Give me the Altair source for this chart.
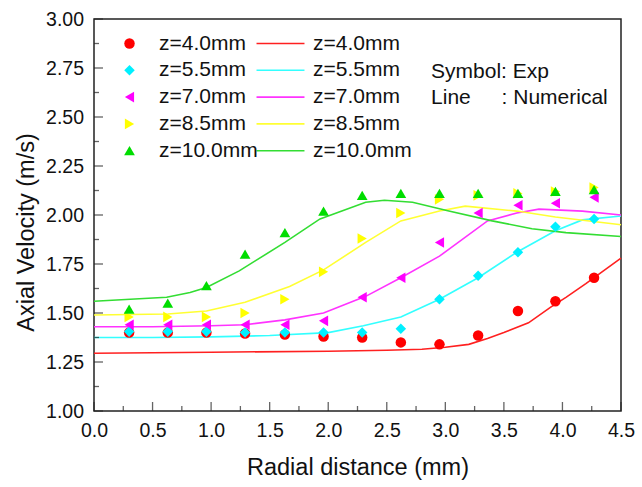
import altair as alt
import pandas as pd

FONT = "Liberation Sans"

series = ["z=4.0mm", "z=5.5mm", "z=7.0mm", "z=8.5mm", "z=10.0mm"]
point_colors = ["#FF0000", "#00F0FF", "#FF00FF", "#FFFF00", "#00DD00"]
line_colors = ["#FF2020", "#33FFFF", "#FF33FF", "#FFFF33", "#33DD33"]
point_shapes = ["circle", "diamond", "triangle-left", "triangle-right", "triangle-up"]
point_sizes = [110, 115, 150, 150, 150]

# Experimental data (symbols)
x_exp = [0.30, 0.63, 0.96, 1.29, 1.63, 1.96, 2.29, 2.62, 2.95, 3.28, 3.62, 3.94, 4.27]
exp_z40 = [1.40, 1.40, 1.40, 1.395, 1.39, 1.38, 1.375, 1.35, 1.34, 1.385, 1.51, 1.56, 1.68]
exp_z55 = [1.405, 1.405, 1.405, 1.40, 1.40, 1.40, 1.40, 1.42, 1.57, 1.69, 1.81, 1.94, 1.98]
exp_z70 = [1.44, 1.44, 1.44, 1.44, 1.44, 1.46, 1.58, 1.68, 1.86, 2.01, 2.05, 2.06, 2.09]
exp_z85 = [1.48, 1.48, 1.48, 1.50, 1.57, 1.71, 1.88, 2.01, 2.08, 2.10, 2.11, 2.12, 2.14]
exp_z100 = [1.52, 1.55, 1.64, 1.80, 1.91, 2.02, 2.10, 2.11, 2.11, 2.11, 2.11, 2.12, 2.13]

# Numerical data (lines)
num_x_z40 = [0.0, 1.0, 2.0, 2.5, 2.8, 3.0, 3.2, 3.36, 3.5, 3.71, 3.9, 4.03, 4.2, 4.5]
num_z40 = [1.295, 1.30, 1.305, 1.31, 1.315, 1.325, 1.34, 1.37, 1.40, 1.45, 1.53, 1.58, 1.65, 1.78]
num_x_z55 = [0.0, 0.5, 1.0, 1.5, 2.0, 2.3, 2.62, 2.95, 3.28, 3.61, 3.94, 4.17, 4.5]
num_z55 = [1.375, 1.375, 1.378, 1.385, 1.40, 1.435, 1.48, 1.57, 1.68, 1.81, 1.92, 1.975, 1.995]
num_x_z70 = [0.0, 0.5, 1.0, 1.29, 1.63, 1.96, 2.32, 2.62, 2.95, 3.36, 3.61, 3.8, 4.17, 4.5]
num_z70 = [1.43, 1.43, 1.435, 1.44, 1.465, 1.50, 1.585, 1.68, 1.79, 1.97, 2.01, 2.03, 2.02, 2.00]
num_x_z85 = [0.0, 0.63, 0.96, 1.29, 1.67, 1.96, 2.32, 2.62, 2.95, 3.17, 3.61, 3.94, 4.5]
num_z85 = [1.49, 1.495, 1.51, 1.555, 1.635, 1.72, 1.86, 1.97, 2.02, 2.045, 2.02, 1.99, 1.95]
num_x_z100 = [0.0, 0.62, 0.82, 0.96, 1.24, 1.63, 1.93, 2.32, 2.48, 2.72, 3.03, 3.40, 3.74, 4.03, 4.5]
num_z100 = [1.56, 1.58, 1.605, 1.63, 1.715, 1.86, 1.98, 2.065, 2.075, 2.065, 2.02, 1.97, 1.93, 1.91, 1.89]

x_major = [0.0, 0.5, 1.0, 1.5, 2.0, 2.5, 3.0, 3.5, 4.0, 4.5]
x_minor = [0.25, 0.75, 1.25, 1.75, 2.25, 2.75, 3.25, 3.75, 4.25]
y_major = [1.0, 1.25, 1.5, 1.75, 2.0, 2.25, 2.5, 2.75, 3.0]
y_minor = [1.125, 1.375, 1.625, 1.875, 2.125, 2.375, 2.625, 2.875]

annot_text = ["Symbol: Exp", "Line", ": Numerical"]
annot_x = [2.878, 2.878, 3.48]
annot_y = [2.70, 2.565, 2.565]

# ---- build tables ----
exp_rows = []
for s, vals in zip(series, [exp_z40, exp_z55, exp_z70, exp_z85, exp_z100]):
    for xv, v in zip(x_exp, vals):
        exp_rows.append({"r": xv, "v": v, "Exp": s})
exp_df = pd.DataFrame(exp_rows)

num_rows = []
for s, xs, vals in zip(series,
                       [num_x_z40, num_x_z55, num_x_z70, num_x_z85, num_x_z100],
                       [num_z40, num_z55, num_z70, num_z85, num_z100]):
    for i, (xv, v) in enumerate(zip(xs, vals)):
        num_rows.append({"r": xv, "v": v, "Num": s, "order": i})
num_df = pd.DataFrame(num_rows)

annot_df = pd.DataFrame({"t": annot_text, "ax": annot_x, "ay": annot_y})

W, H = 527, 392
xscale = alt.Scale(domain=[0, 4.5], nice=False, zero=False)
yscale = alt.Scale(domain=[1, 3], nice=False, zero=False)

xaxis = alt.Axis(values=x_major, format=".1f", ticks=False, tickSize=0, domain=False, grid=False,
                 labelFont=FONT, labelFontSize=19.5, labelColor="#111", labelPadding=25.5,
                 labelBaseline="alphabetic", labelFlush=False, labelOverlap=False, labelBound=False,
                 title="Radial distance (mm)", titleFont=FONT, titleFontSize=23.5,
                 titleFontWeight="normal", titleColor="#111", titleBaseline="alphabetic",
                 titleY=63.5)
yaxis = alt.Axis(values=y_major, format=".2f", ticks=False, tickSize=0, domain=False, grid=False,
                 labelFont=FONT, labelFontSize=19.5, labelColor="#111", labelPadding=10.5,
                 labelBaseline="middle", labelFlush=False, labelOverlap=False, labelBound=False,
                 title="Axial Velocity (m/s)", titleFont=FONT, titleFontSize=23.5,
                 titleFontWeight="normal", titleColor="#111", titleBaseline="alphabetic",
                 titleAngle=270, titleAlign="center", titleX=-61, titleY=213)

pt_legend = alt.Legend(orient="none", legendX=25, legendY=14, title=None, padding=0,
                       labelFont=FONT, labelFontSize=21, labelColor="#111", labelOffset=19,
                       rowPadding=4.8, symbolSize=80)
ln_legend = alt.Legend(orient="none", legendX=176, legendY=14, title=None, padding=0,
                       labelFont=FONT, labelFontSize=21, labelColor="#111", labelOffset=22,
                       rowPadding=4.8, symbolType="M-5,0H5", symbolSize=92, symbolStrokeWidth=1.6)

lines = alt.Chart(num_df).mark_line(strokeWidth=1.6).encode(
    x=alt.X("r:Q", scale=xscale, axis=xaxis),
    y=alt.Y("v:Q", scale=yscale, axis=yaxis),
    color=alt.Color("Num:N", scale=alt.Scale(domain=series, range=line_colors), legend=ln_legend),
    order="order:Q",
)

points = alt.Chart(exp_df).mark_point(filled=True, opacity=1, strokeWidth=0).encode(
    x=alt.X("r:Q", scale=xscale),
    y=alt.Y("v:Q", scale=yscale),
    color=alt.Color("Exp:N", scale=alt.Scale(domain=series, range=point_colors), legend=pt_legend),
    shape=alt.Shape("Exp:N", scale=alt.Scale(domain=series, range=point_shapes), legend=pt_legend),
    size=alt.Size("Exp:N", scale=alt.Scale(domain=series, range=point_sizes), legend=None),
)

xt_major = alt.Chart(pd.DataFrame({"t": x_major})).mark_tick(
    orient="vertical", size=9, thickness=1.3, color="#222", yOffset=-4.5).encode(
    x=alt.X("t:Q", scale=xscale), y=alt.datum(1.0))
xt_minor = alt.Chart(pd.DataFrame({"t": x_minor})).mark_tick(
    orient="vertical", size=5, thickness=1.3, color="#222", yOffset=-2.5).encode(
    x=alt.X("t:Q", scale=xscale), y=alt.datum(1.0))
yt_major = alt.Chart(pd.DataFrame({"t": y_major})).mark_tick(
    orient="horizontal", size=9, thickness=1.3, color="#222", xOffset=4.5).encode(
    y=alt.Y("t:Q", scale=yscale), x=alt.datum(0.0))
yt_minor = alt.Chart(pd.DataFrame({"t": y_minor})).mark_tick(
    orient="horizontal", size=5, thickness=1.3, color="#222", xOffset=2.5).encode(
    y=alt.Y("t:Q", scale=yscale), x=alt.datum(0.0))

annot = alt.Chart(annot_df).mark_text(align="left", baseline="alphabetic", font=FONT,
                                      fontSize=21, color="#111").encode(
    x=alt.X("ax:Q", scale=xscale), y=alt.Y("ay:Q", scale=yscale), text="t:N")

chart = alt.layer(lines, points, xt_major, xt_minor, yt_major, yt_minor, annot).resolve_scale(
    color="independent", shape="independent", size="independent"
).properties(
    width=W, height=H,
    padding={"left": 94, "top": 19, "right": 21, "bottom": 76},
    autosize=alt.AutoSizeParams(type="none"),
    background="white",
).configure_view(stroke="#222", strokeWidth=1.5)

chart.save("out.html", embed_options={"renderer": "svg", "actions": False})
